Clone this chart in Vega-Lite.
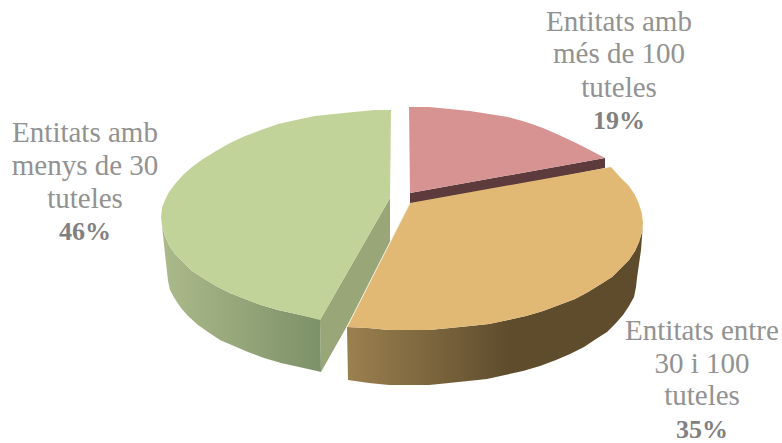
{
  "$schema": "https://vega.github.io/schema/vega-lite/v6.json",
  "width": 782,
  "height": 443,
  "autosize": {"type": "fit", "contains": "padding"},
  "padding": 0,
  "background": "white",
  "view": {"stroke": null},
  "datasets": {
    "greenCut": [
      {"x":390,"y":198},{"x":320,"y":320},{"x":321,"y":372},{"x":390,"y":250}
    ],
    "greenWall": [
      {"x":161,"y":217},{"x":162,"y":226},{"x":165,"y":236},{"x":169,"y":245},{"x":175,"y":254},{"x":183,"y":262},{"x":192,"y":271},{"x":203,"y":278},{"x":216,"y":286},{"x":230,"y":293},{"x":245,"y":299},{"x":261,"y":305},{"x":278,"y":310},{"x":296,"y":314},{"x":320,"y":319},
      {"x":321,"y":372},{"x":317,"y":371},{"x":299,"y":367},{"x":281,"y":363},{"x":264,"y":358},{"x":248,"y":352},{"x":234,"y":346},{"x":220,"y":340},{"x":208,"y":332},{"x":198,"y":325},{"x":188,"y":316},{"x":181,"y":308},{"x":175,"y":299},{"x":170,"y":290},{"x":168,"y":281},{"x":167,"y":272}
    ],
    "greenTop": [
      {"x":391,"y":110},{"x":375,"y":110},{"x":354,"y":112},{"x":334,"y":114},{"x":315,"y":116},{"x":296,"y":120},{"x":278,"y":124},{"x":261,"y":130},{"x":245,"y":136},{"x":230,"y":143},{"x":216,"y":151},{"x":203,"y":159},{"x":192,"y":167},{"x":183,"y":175},{"x":175,"y":184},{"x":169,"y":192},{"x":165,"y":200},{"x":162,"y":208},{"x":161,"y":217},
      {"x":162,"y":226},{"x":165,"y":236},{"x":169,"y":245},{"x":175,"y":254},{"x":183,"y":262},{"x":192,"y":271},{"x":203,"y":278},{"x":216,"y":286},{"x":230,"y":293},{"x":245,"y":299},{"x":261,"y":305},{"x":278,"y":310},{"x":296,"y":314},{"x":320,"y":320},
      {"x":390,"y":198}
    ],
    "redCut": [
      {"x":410,"y":193},{"x":605,"y":158},{"x":605,"y":168},{"x":410,"y":206}
    ],
    "redTop": [
      {"x":409,"y":107},{"x":429,"y":107},{"x":450,"y":109},{"x":470,"y":111},{"x":489,"y":114},{"x":508,"y":117},{"x":526,"y":122},{"x":543,"y":128},{"x":559,"y":135},{"x":574,"y":142},{"x":588,"y":149},{"x":605,"y":158},{"x":410,"y":193}
    ],
    "orangeWall": [
      {"x":347,"y":327},{"x":368,"y":328},{"x":389,"y":330},{"x":409,"y":330},{"x":429,"y":330},{"x":450,"y":328},{"x":470,"y":326},{"x":489,"y":324},{"x":508,"y":320},{"x":526,"y":316},{"x":543,"y":311},{"x":559,"y":305},{"x":575,"y":299},{"x":588,"y":292},{"x":601,"y":284},{"x":612,"y":277},{"x":621,"y":268},{"x":629,"y":260},{"x":635,"y":251},{"x":639,"y":242},{"x":642,"y":232},{"x":643,"y":223},
      {"x":641,"y":250},{"x":637,"y":278},{"x":636,"y":287},{"x":634,"y":297},{"x":629,"y":306},{"x":623,"y":315},{"x":616,"y":323},{"x":607,"y":332},{"x":596,"y":339},{"x":584,"y":347},{"x":570,"y":354},{"x":556,"y":360},{"x":540,"y":366},{"x":523,"y":371},{"x":505,"y":375},{"x":487,"y":379},{"x":468,"y":381},{"x":449,"y":383},{"x":429,"y":385},{"x":409,"y":385},{"x":389,"y":385},{"x":369,"y":383},{"x":348,"y":380}
    ],
    "orangeTop": [
      {"x":410,"y":203},{"x":347,"y":327},{"x":368,"y":328},{"x":389,"y":330},{"x":409,"y":330},{"x":429,"y":330},{"x":450,"y":328},{"x":470,"y":326},{"x":489,"y":324},{"x":508,"y":320},{"x":526,"y":316},{"x":543,"y":311},{"x":559,"y":305},{"x":575,"y":299},{"x":588,"y":292},{"x":601,"y":284},{"x":612,"y":277},{"x":621,"y":268},{"x":629,"y":260},{"x":635,"y":251},{"x":639,"y":242},{"x":642,"y":232},{"x":643,"y":223},{"x":642,"y":214},{"x":639,"y":204},{"x":635,"y":195},{"x":629,"y":186},{"x":621,"y":178},{"x":611,"y":167}
    ],
    "orangeEdge": [
      {"x":410,"y":203},{"x":347,"y":327}
    ],
    "labels": [
      {"text":"Entitats amb","x":619,"y":31,"bold":false},
      {"text":"més de 100","x":619,"y":63,"bold":false},
      {"text":"tuteles","x":619,"y":97,"bold":false},
      {"text":"19%","x":619,"y":129,"bold":true},
      {"text":"Entitats amb","x":85,"y":142,"bold":false},
      {"text":"menys de 30","x":85,"y":175,"bold":false},
      {"text":"tuteles","x":85,"y":208,"bold":false},
      {"text":"46%","x":85,"y":240,"bold":true},
      {"text":"Entitats entre","x":702,"y":340,"bold":false},
      {"text":"30 i 100","x":702,"y":373,"bold":false},
      {"text":"tuteles","x":702,"y":405,"bold":false},
      {"text":"35%","x":702,"y":438,"bold":true}
    ]
  },
  "encoding": {
    "x": {"field": "x", "type": "quantitative", "axis": null, "scale": {"domain": [0, 782], "nice": false, "zero": false}},
    "y": {"field": "y", "type": "quantitative", "axis": null, "scale": {"domain": [443, 0], "nice": false, "zero": false}}
  },
  "layer": [
    {
      "data": {"name": "greenCut"},
      "mark": {"type": "line", "filled": true, "color": "#98a678", "strokeWidth": 0},
      "encoding": {"order": {"value": null}}
    },
    {
      "data": {"name": "greenWall"},
      "mark": {"type": "line", "filled": true, "strokeWidth": 0, "color": {"gradient": "linear", "x1": 0, "y1": 0, "x2": 1, "y2": 0, "stops": [{"offset": 0, "color": "#acba8a"}, {"offset": 1, "color": "#7d9168"}]}},
      "encoding": {"order": {"value": null}}
    },
    {
      "data": {"name": "greenTop"},
      "mark": {"type": "line", "filled": true, "color": "#c2d399", "strokeWidth": 0},
      "encoding": {"order": {"value": null}}
    },
    {
      "data": {"name": "redCut"},
      "mark": {"type": "line", "filled": true, "color": "#5d3a3c", "strokeWidth": 0},
      "encoding": {"order": {"value": null}}
    },
    {
      "data": {"name": "redTop"},
      "mark": {"type": "line", "filled": true, "color": "#d69391", "strokeWidth": 0},
      "encoding": {"order": {"value": null}}
    },
    {
      "data": {"name": "orangeWall"},
      "mark": {"type": "line", "filled": true, "strokeWidth": 0, "color": {"gradient": "linear", "x1": 0, "y1": 0, "x2": 1, "y2": 0, "stops": [{"offset": 0, "color": "#9b804f"}, {"offset": 0.55, "color": "#5e4c2d"}, {"offset": 1, "color": "#5e4c2d"}]}},
      "encoding": {"order": {"value": null}}
    },
    {
      "data": {"name": "orangeTop"},
      "mark": {"type": "line", "filled": true, "color": "#e2b974", "strokeWidth": 0},
      "encoding": {"order": {"value": null}}
    },
    {
      "data": {"name": "orangeEdge"},
      "mark": {"type": "line", "color": "#f4f0e4", "strokeWidth": 1},
      "encoding": {"order": {"value": null}}
    },
    {
      "data": {"name": "labels"},
      "transform": [{"filter": "!datum.bold"}],
      "mark": {"type": "text", "font": "Liberation Serif", "fontSize": 29, "color": "#929292", "align": "center", "baseline": "alphabetic"},
      "encoding": {"text": {"field": "text", "type": "nominal"}}
    },
    {
      "data": {"name": "labels"},
      "transform": [{"filter": "datum.bold"}],
      "mark": {"type": "text", "font": "Liberation Serif", "fontSize": 26, "fontWeight": "bold", "color": "#808080", "align": "center", "baseline": "alphabetic"},
      "encoding": {"text": {"field": "text", "type": "nominal"}}
    }
  ]
}
